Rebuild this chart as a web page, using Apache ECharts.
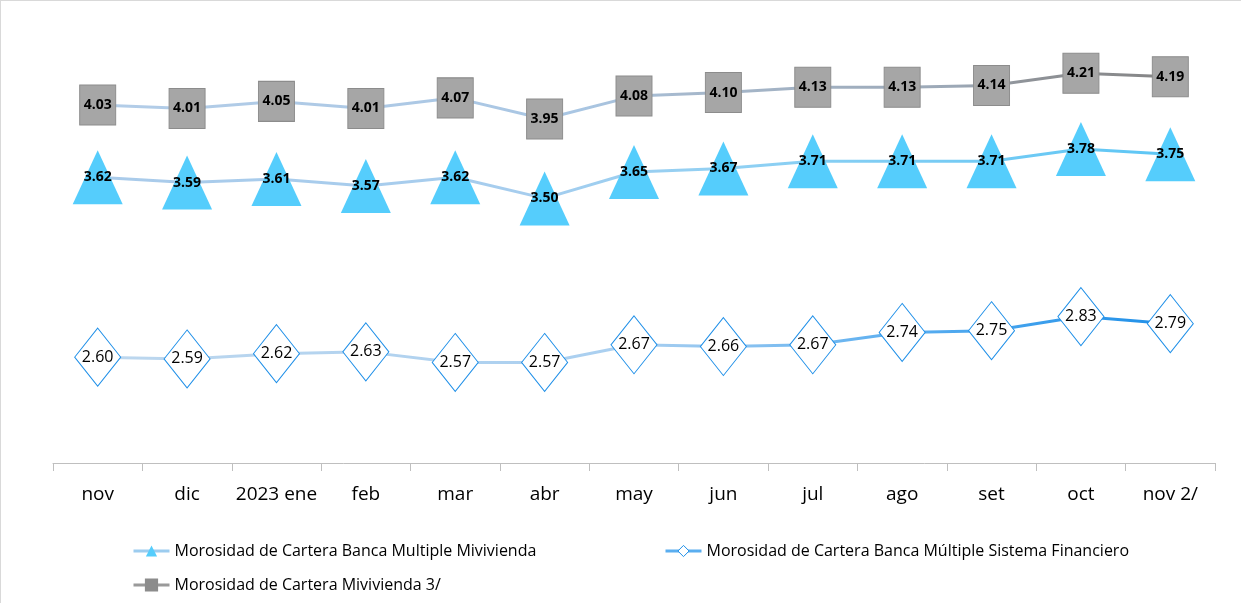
<!DOCTYPE html>
<html><head><meta charset="utf-8">
<script src="https://cdn.jsdelivr.net/npm/echarts@6/dist/echarts.min.js"></script>
<style>
html,body{margin:0;padding:0;background:#fff;}
#c{width:1241px;height:603px;box-sizing:border-box;border-top:1px solid #d9d9d9;border-left:1px solid #d9d9d9;}
</style></head>
<body><div id="c"></div>
<script>
const categories = ['nov','dic','2023 ene','feb','mar','abr','may','jun','jul','ago','set','oct','nov 2/'];
const seriesNames = [
  'Morosidad de Cartera Banca Multiple Mivivienda',
  'Morosidad de Cartera Banca Múltiple Sistema Financiero',
  'Morosidad de Cartera Mivivienda 3/'
];
const bancaMivivienda = [3.62,3.59,3.61,3.57,3.62,3.50,3.65,3.67,3.71,3.71,3.71,3.78,3.75];
const sistemaFinanciero = [2.60,2.59,2.62,2.63,2.57,2.57,2.67,2.66,2.67,2.74,2.75,2.83,2.79];
const carteraMivivienda = [4.03,4.01,4.05,4.01,4.07,3.95,4.08,4.10,4.13,4.13,4.14,4.21,4.19];

const chart = echarts.init(document.getElementById('c'));
const G = (stops) => new echarts.graphic.LinearGradient(0,0,1,0, stops.map(s=>({offset:s[0],color:s[1]})));
const ff = '"Open Sans",sans-serif';
const legTxt = {fontSize:16,color:'#000',fontFamily:ff};

chart.setOption({
  animation:false,
  backgroundColor:'#fff',
  grid:{left:52,right:26,top:21,bottom:140},
  xAxis:{
    type:'category',data:categories,boundaryGap:true,
    axisLine:{lineStyle:{color:'#bfbfbf',width:1}},
    axisTick:{show:true,length:8,lineStyle:{color:'#bfbfbf'}},
    axisLabel:{color:'#000',fontSize:19,margin:22,fontFamily:ff,interval:0}
  },
  yAxis:{type:'value',min:2,max:4.5,show:false,splitLine:{show:false}},
  legend:[
    {left:126,top:537,itemWidth:36,itemHeight:14,textStyle:legTxt,
     data:[{name:seriesNames[0],itemStyle:{color:'#55cdfc'},lineStyle:{color:'#9cccef',width:3}}]},
    {left:658,top:537,itemWidth:36,itemHeight:14,textStyle:legTxt,
     data:[{name:seriesNames[1],itemStyle:{color:'#fff',borderColor:'#1e8fe8',borderWidth:1},lineStyle:{color:'#5aaef0',width:3}}]},
    {left:126,top:571,itemWidth:36,itemHeight:14,textStyle:legTxt,
     data:[{name:seriesNames[2],itemStyle:{color:'#8c8c8c'},lineStyle:{color:'#9a9a9a',width:3}}]}
  ],
  series:[
    {name:seriesNames[2],type:'line',data:carteraMivivienda,symbol:'rect',symbolSize:[36,40],
     itemStyle:{color:'#a6a6a6',borderColor:'#8c8c8c',borderWidth:1},
     lineStyle:{width:3,color:G([[0,'#b3cde8'],[0.45,'#a9c6e3'],[0.55,'#a6b8cc'],[0.8,'#9ca8b6'],[0.86,'#8f9399'],[1,'#858585']])},
     label:{show:true,position:'inside',color:'#000',fontSize:14,fontWeight:'bold',fontFamily:ff,formatter:p=>p.value.toFixed(2)},
     z:3},
    {name:seriesNames[0],type:'line',data:bancaMivivienda,symbol:'triangle',symbolSize:[50,54],
     itemStyle:{color:'#55cdfc'},
     lineStyle:{width:3,color:G([[0,'#aacbea'],[0.4,'#a6cdee'],[0.6,'#8fd0f3'],[1,'#5cc6f5']])},
     label:{show:true,position:'inside',color:'#000',fontSize:14,fontWeight:'bold',fontFamily:ff,formatter:p=>p.value.toFixed(2)},
     z:3},
    {name:seriesNames[1],type:'line',data:sistemaFinanciero,symbol:'diamond',symbolSize:[46,58],
     itemStyle:{color:'#fff',borderColor:'#1e8fe8',borderWidth:1},
     lineStyle:{width:3,color:G([[0,'#bdd7ee'],[0.5,'#a9cff0'],[0.75,'#5aaef0'],[1,'#1e8fe8']])},
     label:{show:true,position:'inside',color:'#000',fontSize:16,fontFamily:ff,formatter:p=>p.value.toFixed(2)},
     z:3}
  ]
});
</script></body></html>
